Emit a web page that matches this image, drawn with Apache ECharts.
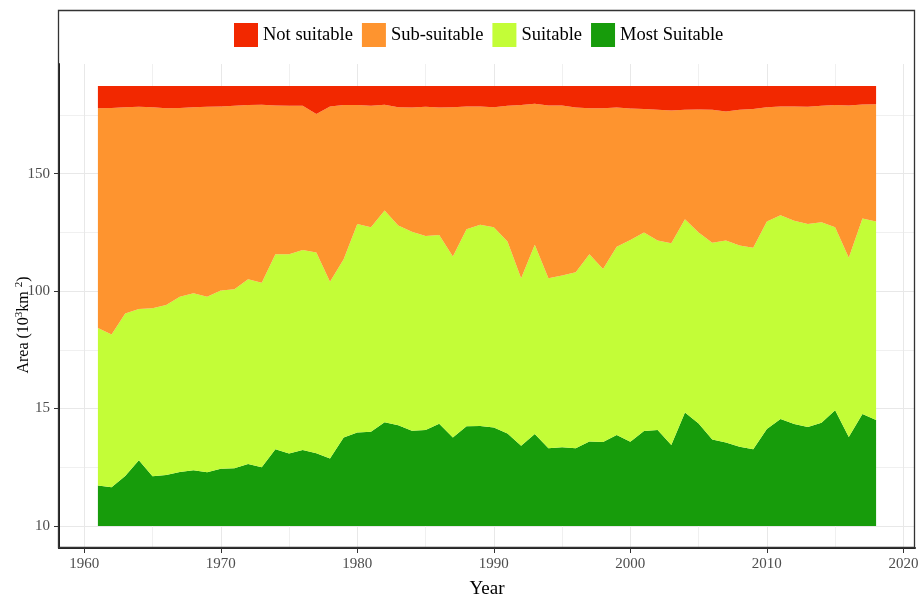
<!DOCTYPE html>
<html>
<head>
<meta charset="utf-8">
<script src="https://cdn.jsdelivr.net/npm/echarts@6/dist/echarts.min.js"></script>
<style>
html,body{margin:0;padding:0;background:#fff;}
#chart{width:920px;height:595px;}
</style>
</head>
<body>
<div id="chart"></div>
<script>
const years = [1961,1962,1963,1964,1965,1966,1967,1968,1969,1970,1971,1972,1973,1974,1975,1976,1977,1978,1979,1980,1981,1982,1983,1984,1985,1986,1987,1988,1989,1990,1991,1992,1993,1994,1995,1996,1997,1998,1999,2000,2001,2002,2003,2004,2005,2006,2007,2008,2009,2010,2011,2012,2013,2014,2015,2016,2017,2018];
const mostSuitable = [17.2,16.5,21.3,28.0,21.2,21.7,23.0,23.7,22.9,24.3,24.6,26.4,25.0,32.6,30.8,32.3,30.9,28.7,37.7,39.8,40.1,44.2,42.9,40.5,40.8,43.5,37.7,42.4,42.6,41.9,39.4,34.1,39.1,33.1,33.5,33.1,36.0,35.7,38.7,35.8,40.4,40.8,34.5,48.3,43.6,36.8,35.5,33.7,32.6,41.3,45.5,43.4,42.1,43.9,49.3,37.9,47.7,45.1];
const suitable = [67.1,65.0,69.2,64.4,71.5,72.4,74.6,75.4,74.7,75.9,76.2,78.6,78.6,83.1,84.9,85.2,85.5,75.3,75.9,88.8,87.1,90.1,85.0,84.8,82.7,80.4,77.0,83.9,85.6,85.3,81.7,71.4,80.6,72.4,73.1,74.9,79.7,73.7,80.2,86.0,84.5,80.7,85.9,82.3,81.3,83.8,86.0,85.7,85.9,88.3,86.8,86.6,86.5,85.4,77.9,76.3,83.2,84.5];
const subSuitable = [93.6,96.5,87.8,86.1,85.6,83.8,80.4,79.2,80.9,78.4,78.1,74.2,75.7,63.3,63.2,61.4,59.0,74.6,65.6,50.6,51.7,45.0,50.4,52.9,55.0,54.3,63.6,52.3,50.4,51.1,57.8,73.7,60.1,73.5,72.4,70.2,62.2,68.5,59.3,55.9,52.6,55.7,56.5,46.6,52.4,56.6,55.0,57.8,59.0,48.7,46.3,48.6,49.9,49.6,52.0,64.8,48.6,50.0];
const notSuitable = [9.4,9.3,9.0,8.8,9.0,9.4,9.3,9.0,8.8,8.7,8.4,8.1,8.0,8.3,8.4,8.4,11.9,8.7,8.1,8.1,8.4,8.0,9.0,9.1,8.8,9.1,9.0,8.7,8.7,9.0,8.4,8.1,7.5,8.3,8.3,9.1,9.4,9.4,9.1,9.6,9.8,10.1,10.4,10.1,10.0,10.1,10.8,10.1,9.8,9.0,8.7,8.7,8.8,8.4,8.1,8.3,7.8,7.7];

const xTickValues = [1960,1970,1980,1990,2000,2010,2020];
const xMinorValues = [1965,1975,1985,1995,2005,2015];
const yTickValues = [0,50,100,150];
const yTickLabels = ['10','15','100','150'];
const yMinorValues = [25,75,125,175];
const seriesNames = ['Most Suitable','Suitable','Sub-suitable','Not suitable'];
const legendOrder = ['Not suitable','Sub-suitable','Suitable','Most Suitable'];
const colors = ['#179C0B','#C3FD37','#FE942F','#F22800'];
const seriesValues = [mostSuitable, suitable, subSuitable, notSuitable];

const FONT = '"Liberation Serif", "Times New Roman", serif';
const xMin = 1958.15, xMax = 2020.85, yMin = -9.4, yMax = 196.7;

const chart = echarts.init(document.getElementById('chart'), null, {renderer:'canvas'});
const option = {
  backgroundColor:'#fff',
  animation:false,
  graphic:[{
    type:'rect', z:100, silent:true,
    shape:{x:58.5, y:10.5, width:856, height:537},
    style:{fill:'none', stroke:'#333', lineWidth:1.3}
  }],
  legend:{
    data:legendOrder, left:234, top:23, padding:0, icon:'rect',
    itemWidth:24, itemHeight:24, itemGap:9,
    textStyle:{fontFamily:FONT, fontSize:18.5, color:'#000'}
  },
  grid:{left:59, right:5, top:64, bottom:47, containLabel:false, outerBoundsMode:'none'},
  xAxis:[{
    type:'value', min:xMin, max:xMax,
    name:'Year', nameLocation:'middle', nameGap:32,
    nameTextStyle:{fontFamily:FONT, fontSize:19, color:'#000'},
    axisLine:{show:true, onZero:false, lineStyle:{color:'#222', width:2}},
    axisTick:{show:true, length:5, customValues:xTickValues, lineStyle:{color:'#333', width:1}},
    axisLabel:{show:true, customValues:xTickValues, margin:9, fontFamily:FONT, fontSize:15, color:'#4d4d4d',
      formatter:v=>String(Math.round(v))},
    splitLine:{show:true, lineStyle:{color:'#e8e8e8', width:1}}
  },{
    type:'value', min:xMin, max:xMax, position:'bottom',
    axisLine:{show:false}, axisLabel:{show:false},
    axisTick:{show:false, customValues:xMinorValues},
    splitLine:{show:true, lineStyle:{color:'#f0f0f0', width:1}}
  }],
  yAxis:[{
    type:'value', min:yMin, max:yMax,
    name:'Area (10{sup|3}km {sup|2})', nameLocation:'middle', nameGap:25, nameRotate:90,
    nameMoveOverlap:false,
    nameTextStyle:{fontFamily:FONT, fontSize:16, color:'#000', lineHeight:20, padding:[0,38,0,0],
      rich:{sup:{fontFamily:FONT, fontSize:11, color:'#000', verticalAlign:'top', lineHeight:11}}},
    axisLine:{show:true, onZero:false, lineStyle:{color:'#222', width:2}},
    axisTick:{show:true, length:5, customValues:yTickValues, lineStyle:{color:'#333', width:1}},
    axisLabel:{show:true, customValues:yTickValues, margin:9, fontFamily:FONT, fontSize:15, color:'#4d4d4d',
      formatter:v=>{const i=yTickValues.indexOf(Math.round(v)); return i>=0?yTickLabels[i]:'';}},
    splitLine:{show:true, lineStyle:{color:'#e8e8e8', width:1}}
  },{
    type:'value', min:yMin, max:yMax, position:'left',
    axisLine:{show:false}, axisLabel:{show:false},
    axisTick:{show:false, customValues:yMinorValues},
    splitLine:{show:true, lineStyle:{color:'#f0f0f0', width:1}}
  }],
  series: seriesNames.map((name,i)=>({
    name:name, type:'line', stack:'total',
    xAxisIndex:0, yAxisIndex:0,
    // value first so that stacking happens on the y (area) dimension
    data: years.map((y,j)=>[seriesValues[i][j], y]),
    encode:{x:1, y:0},
    showSymbol:false, symbol:'none',
    lineStyle:{width:0, color:colors[i]},
    itemStyle:{color:colors[i]},
    areaStyle:{color:colors[i], opacity:1},
    emphasis:{disabled:true}
  }))
};
chart.setOption(option);
</script>
</body>
</html>
